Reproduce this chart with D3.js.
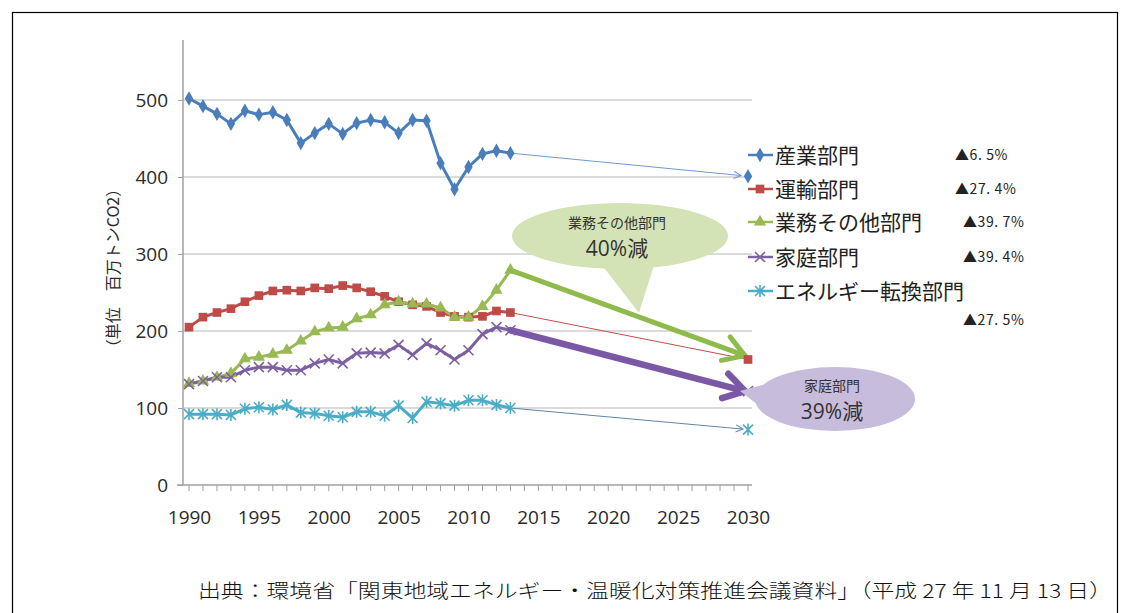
<!DOCTYPE html>
<html><head><meta charset="utf-8">
<script src="https://cdn.jsdelivr.net/npm/d3@7"></script>
<style>body{margin:0;background:#fff}svg{display:block}</style>
</head><body><svg id="c" width="1130" height="613"></svg>
<script>
// ---- data ----
const years = [1990,1991,1992,1993,1994,1995,1996,1997,1998,1999,2000,2001,2002,2003,2004,2005,2006,2007,2008,2009,2010,2011,2012,2013];
const industry   = [502,492,482,469,486,481,484,474,444,457,469,456,470,474,471,457,474,473,418,384,413,430,434,431];
const transport  = [205,218,224,229,238,246,252,253,252,256,255,259,256,251,245,238,234,232,224,219,218,219,226,224];
const commercial = [132,135,140,145,164,166,170,175,187,199,204,205,216,221,234,238,235,235,230,218,218,232,253,279];
const household  = [131,135,140,140,149,153,153,149,149,158,163,158,171,172,171,182,169,184,175,163,175,196,205,201];
const energy     = [92,92,92,91,99,101,98,104,94,93,90,88,95,95,90,103,87,108,106,103,110,110,104,100];
const targetYear = 2030;
const target2030 = [401,163,168,122,72];
const seriesNames = ["産業部門","運輸部門","業務その他部門","家庭部門","エネルギー転換部門"];
const reductions = ["▲6. 5%","▲27. 4%","▲39. 7%","▲39. 4%","▲27. 5%"];
const yTicks = [0,100,200,300,400,500];
const xTicks = [1990,1995,2000,2005,2010,2015,2020,2025,2030];
const yTitle = "（単位　百万トンCO2）";
const bubble1 = ["業務その他部門","40%減"];
const bubble2 = ["家庭部門","39%減"];
const source = "出典：環境省「関東地域エネルギー・温暖化対策推進会議資料」（平成 27 年 11 月 13 日）";

const seriesValues = [industry, transport, commercial, household, energy];
const colors = ["#4a7ebb","#be4b48","#98b954","#7d60a0","#4bacc6"];
const shapes = ["diamond","square","triangle","x","star"];

const svg = d3.select("#c");
const x = d3.scaleLinear().domain([1990, 2030]).range([189, 748]);
const y = d3.scaleLinear().domain([0, 500]).range([485, 100]);
const FONT = "'Open Sans','Noto Sans CJK JP',sans-serif";
const JP = "'Noto Sans CJK JP',sans-serif";

// frame
svg.append("rect").attr("x",12.5).attr("y",12.5).attr("width",1105).attr("height",640)
  .attr("fill","none").attr("stroke","#000").attr("stroke-width",1.2);

// gridlines
svg.append("g").selectAll("line").data(yTicks.filter(d=>d>0)).join("line")
  .attr("x1",183).attr("x2",752).attr("y1",d=>y(d)).attr("y2",d=>y(d))
  .attr("stroke","#cfcfcf").attr("stroke-width",1.3);

// y axis
const ya = svg.append("g").attr("transform","translate(183,0)")
  .call(d3.axisLeft(y).tickValues(yTicks).tickSize(5).tickPadding(10));
ya.select(".domain").remove();
ya.selectAll("line").attr("stroke","#a0a0a0");
ya.selectAll("text").attr("font-family",FONT).attr("font-size",19).attr("fill","#2a2a2a");
svg.append("line").attr("x1",183).attr("x2",183).attr("y1",y(0)).attr("y2",40)
  .attr("stroke","#a0a0a0").attr("stroke-width",1.5);

// x axis
const allYears = d3.range(1990, 2031);
const xa = svg.append("g").attr("transform",`translate(0,${y(0)})`)
  .call(d3.axisBottom(x).tickValues(xTicks).tickFormat(d3.format("d")).tickSize(0).tickPadding(26));
xa.select(".domain").remove();
xa.selectAll("text").attr("font-family",FONT).attr("font-size",19).attr("fill","#2a2a2a");
svg.append("line").attr("x1",177).attr("x2",752).attr("y1",y(0)).attr("y2",y(0))
  .attr("stroke","#a0a0a0").attr("stroke-width",1.5);
svg.append("g").selectAll("line").data(allYears).join("line")
  .attr("x1",d=>x(d)).attr("x2",d=>x(d)).attr("y1",y(0)).attr("y2",y(0)+6)
  .attr("stroke","#a0a0a0");

// y title
svg.append("text").attr("transform","translate(119,268) rotate(-90)")
  .attr("text-anchor","middle").attr("font-family",JP).attr("font-size",16).attr("fill","#2a2a2a")
  .text(yTitle);

// marker drawing
function drawMarker(g, shape, color, cx, cy) {
  const s = g.append("g").attr("transform",`translate(${cx},${cy})`);
  if (shape === "diamond") s.append("path").attr("d", d3.symbol(d3.symbolDiamond, 60)()).attr("fill",color);
  else if (shape === "square") s.append("path").attr("d", d3.symbol(d3.symbolSquare, 75)()).attr("fill",color);
  else if (shape === "triangle") s.append("path").attr("d", d3.symbol(d3.symbolTriangle, 65)()).attr("fill",color);
  else if (shape === "x") s.append("path").attr("d","M-5,-5L5,5M-5,5L5,-5").attr("stroke",color).attr("stroke-width",1.6).attr("fill","none");
  else s.append("path").attr("d","M-5,-5L5,5M-5,5L5,-5M0,-6L0,6").attr("stroke",color).attr("stroke-width",1.6).attr("fill","none");
}

// thin projection lines (drawn first, underneath)
const defs = svg.append("defs");
function arrowMarker(id, color) {
  defs.append("marker").attr("id",id).attr("viewBox","0 0 10 10").attr("refX",9).attr("refY",5)
    .attr("markerWidth",9).attr("markerHeight",9).attr("orient","auto").attr("markerUnits","userSpaceOnUse")
    .append("path").attr("d","M1,1L9,5L1,9").attr("fill","none").attr("stroke",color).attr("stroke-width",1.2);
}
arrowMarker("arB","#6d9bd0");
arrowMarker("arC","#5a8fb0");
const last = years.length - 1;
const thin = [
  {i:0, color:"#6d9bd0", marker:"arB", end:-7},
  {i:1, color:"#c0504d", marker:null, end:0},
  {i:4, color:"#5f86a8", marker:"arC", end:-5}
];
thin.forEach(t => {
  const x1 = x(years[last]), y1 = y(seriesValues[t.i][last]);
  const x2 = x(targetYear), y2 = y(target2030[t.i]);
  const len = Math.hypot(x2-x1, y2-y1);
  const ex = x2 + (x2-x1)/len*t.end, ey = y2 + (y2-y1)/len*t.end;
  const ln = svg.append("line").attr("x1",x1).attr("y1",y1).attr("x2",ex).attr("y2",ey)
    .attr("stroke",t.color).attr("stroke-width",1);
  if (t.marker) ln.attr("marker-end",`url(#${t.marker})`);
});

// series
const line = d3.line().x((d,i)=>x(years[i])).y(d=>y(d));
const sg = svg.append("g");
seriesValues.forEach((vals, k) => {
  sg.append("path").attr("d", line(vals)).attr("fill","none")
    .attr("stroke",colors[k]).attr("stroke-width",3).attr("stroke-linejoin","round");
});
seriesValues.forEach((vals, k) => {
  vals.forEach((v,i) => drawMarker(sg, shapes[k], colors[k], x(years[i]), y(v)));
});

// thick arrows
function thickArrow(k, color, w) {
  const x1 = x(years[last]), y1 = y(seriesValues[k][last]);
  const x2 = x(targetYear) - 3, y2 = y(target2030[k]);
  svg.append("line").attr("x1",x1).attr("y1",y1).attr("x2",x2).attr("y2",y2)
    .attr("stroke",color).attr("stroke-width",w).attr("stroke-linecap","round");
  const a = Math.atan2(y2-y1, x2-x1), L = 24, sp = 0.55;
  const p = `M${x2-L*Math.cos(a-sp)},${y2-L*Math.sin(a-sp)}L${x2},${y2}L${x2-L*Math.cos(a+sp)},${y2-L*Math.sin(a+sp)}`;
  svg.append("path").attr("d",p).attr("fill","none").attr("stroke",color).attr("stroke-width",w)
    .attr("stroke-linecap","round").attr("stroke-linejoin","round");
}
thickArrow(2, "#8fba4c", 5);
thickArrow(3, "#7b58a6", 6.5);

// 2030 target markers
target2030.forEach((v,k) => { if (k!==2) drawMarker(svg, shapes[k], colors[k], x(targetYear), y(v)); });

// bubbles
function bubble(cx, cy, rx, ry, tail, fill, lines) {
  const g = svg.append("g");
  g.append("path").attr("d", `M${tail[0][0]},${tail[0][1]}L${tail[1][0]},${tail[1][1]}L${tail[2][0]},${tail[2][1]}Z`)
    .attr("fill",fill);
  g.append("ellipse").attr("cx",cx).attr("cy",cy).attr("rx",rx).attr("ry",ry).attr("fill",fill);
  g.append("text").attr("x",cx-3).attr("y",cy-8).attr("text-anchor","middle")
    .attr("font-family",JP).attr("font-size",14).attr("fill","#333").text(lines[0]);
  g.append("text").attr("x",cx-3).attr("y",cy+20).attr("text-anchor","middle")
    .attr("font-family",FONT).attr("font-size",21).attr("fill","#333").text(lines[1]);
}
bubble(620, 236, 108, 33, [[598,260],[639,313],[655,262]], "#d4e3b6", bubble1);
bubble(835, 399, 80, 32, [[770,383],[740,391],[770,414]], "#c8bcdd", bubble2);

// legend
const lg = svg.append("g");
const rowsY = [155, 189, 222, 257, 291];
seriesNames.forEach((n,k) => {
  lg.append("line").attr("x1",748).attr("x2",773).attr("y1",rowsY[k]).attr("y2",rowsY[k])
    .attr("stroke",colors[k]).attr("stroke-width",2.5);
  drawMarker(lg, shapes[k], colors[k], 760, rowsY[k]);
  lg.append("text").attr("x",775).attr("y",rowsY[k]+8).attr("font-family",JP)
    .attr("font-size",21).attr("fill","#222").text(n);
});
const pctPos = [[955,155],[955,189],[963,222],[963,257],[963,320]];
reductions.forEach((r,k) => {
  lg.append("text").attr("x",pctPos[k][0]).attr("y",pctPos[k][1]+5).attr("font-family",JP)
    .attr("font-size",14).attr("letter-spacing",0.6).attr("fill","#222").text(r);
});

// source
svg.append("text").attr("x",198).attr("y",598).attr("font-family","'Noto Sans CJK JP',serif")
  .attr("font-size",19).attr("font-weight",300).attr("fill","#111")
  .attr("textLength",914).attr("lengthAdjust","spacingAndGlyphs").text(source);
</script>
</body></html>
